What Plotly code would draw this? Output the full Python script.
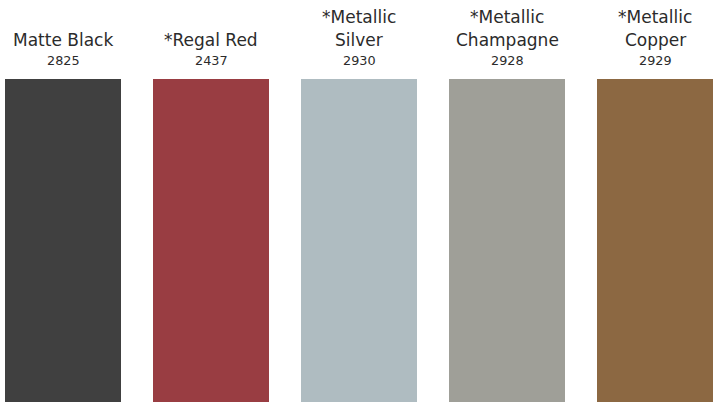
import plotly.graph_objects as go

names = ["Matte Black", "*Regal Red", "*Metallic<br>Silver", "*Metallic<br>Champagne", "*Metallic<br>Copper"]
codes = ["2825", "2437", "2930", "2928", "2929"]
colors = ["#404040", "#993d42", "#afbcc1", "#9f9f98", "#8c6842"]
values = [1, 1, 1, 1, 1]

W, H = 718, 402
top = 79
font_family = "DejaVu Sans"
text_color = "#2b2b2b"

xs = list(range(len(names)))
bar_w = 116 / 148

fig = go.Figure(go.Bar(
    x=xs, y=values, width=bar_w,
    marker=dict(color=colors, line=dict(width=0)),
    hoverinfo="skip",
))

annotations = []
name_size, code_size = 17, 12.8
line_gap = 23.6
name_base = 46.0
code_base = 64.8
for i, (nm, cd) in enumerate(zip(names, codes)):
    lines = nm.split("<br>")
    n = len(lines)
    for j, ln in enumerate(lines):
        baseline = name_base - (n - 1 - j) * line_gap
        center = baseline - 0.345 * name_size
        annotations.append(dict(
            x=i, xref="x", y=1, yref="paper", yshift=top - center,
            text=ln, showarrow=False, xanchor="center", yanchor="middle",
            font=dict(family=font_family, size=name_size, color=text_color),
        ))
    center = code_base - 0.345 * code_size
    annotations.append(dict(
        x=i, xref="x", y=1, yref="paper", yshift=top - center,
        text=cd, showarrow=False, xanchor="center", yanchor="middle",
        font=dict(family=font_family, size=code_size, color=text_color),
    ))

fig.update_layout(
    width=W, height=H,
    margin=dict(l=5, r=5, t=top, b=0, pad=0),
    paper_bgcolor="white", plot_bgcolor="white",
    showlegend=False,
    xaxis=dict(visible=False, range=[-bar_w / 2, len(names) - 1 + bar_w / 2], fixedrange=True),
    yaxis=dict(visible=False, range=[0, 1], fixedrange=True),
    annotations=annotations,
)

fig.write_html(
    "out.html",
    config={"displayModeBar": False},
    post_script="document.body.style.margin='0';document.body.style.overflow='hidden';",
)
